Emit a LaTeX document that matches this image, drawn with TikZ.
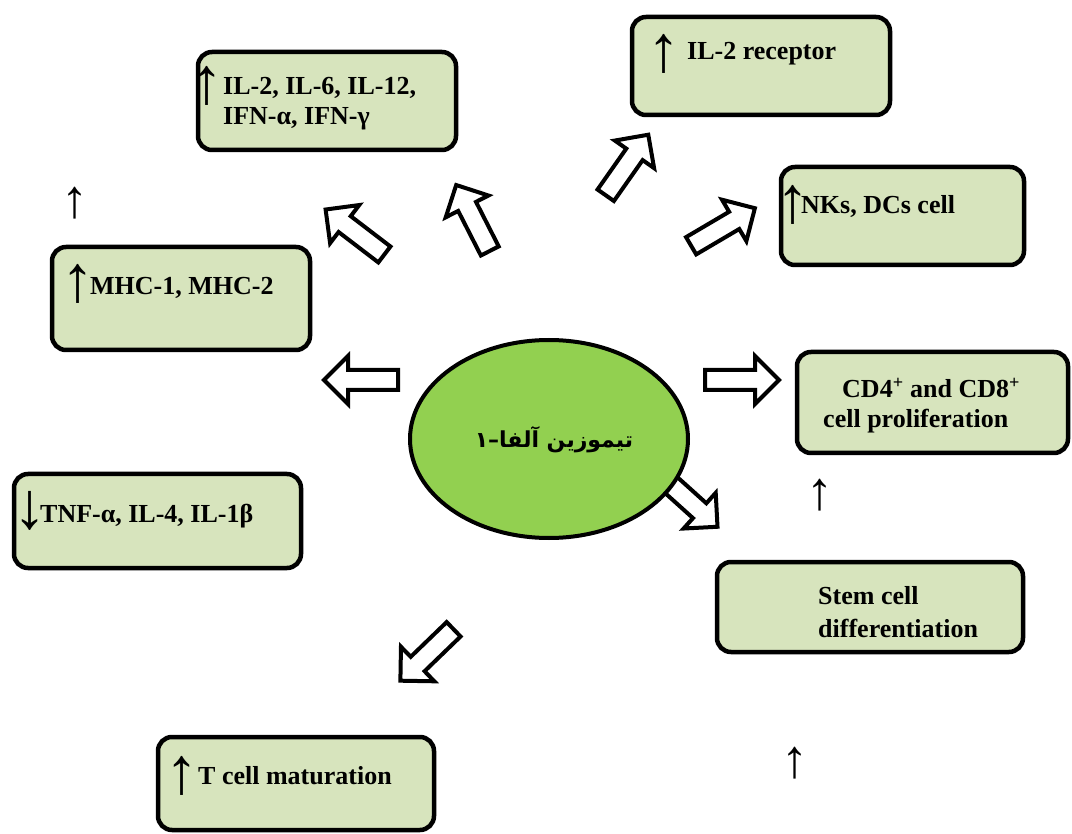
\documentclass[tikz,border=0pt]{standalone}
\usepackage{fontspec}
\usetikzlibrary{shapes.geometric}
\setmainfont{Liberation Serif}
\newfontfamily\arabicfont[Script=Arabic]{DejaVu Sans}
\TeXXeTstate=1
\definecolor{boxfill}{HTML}{D7E4BD}
\definecolor{corefill}{HTML}{92D050}
\tikzset{
  box/.style={draw=black, line width=4.5pt, rounded corners=14pt, fill=boxfill, inner sep=0pt},
  txt/.style={anchor=base west, inner sep=0pt, font=\bfseries\fontsize{26}{30}\selectfont},
  arr/.style={anchor=center, inner sep=0pt, font=\fontsize{66}{66}\selectfont},
  sarr/.style={anchor=center, inner sep=0pt, font=\fontsize{54}{54}\selectfont},
  barrow/.pic={\draw[line width=4pt, fill=white, line join=miter]
     (-37,-10) -- (13,-10) -- (13,-24) -- (37,0) -- (13,24) -- (13,10) -- (-37,10) -- cycle;}
}
\begin{document}
\begin{tikzpicture}[x=1pt,y=-1pt]
\useasboundingbox (0,0) rectangle (1072,834);
% boxes
\node[box, minimum width=258pt, minimum height=98pt] (b1) at (327,101) {};
\node[box, minimum width=258pt, minimum height=98pt] (b2) at (761,66) {};
\node[box, minimum width=243pt, minimum height=98pt] (b3) at (902.5,216) {};
\node[box, minimum width=258pt, minimum height=103pt] (b4) at (181,298.5) {};
\node[box, minimum width=271pt, minimum height=101pt] (b5) at (932.5,402.5) {};
\node[box, minimum width=287pt, minimum height=94pt] (b6) at (157.5,521) {};
\node[box, minimum width=306pt, minimum height=90pt] (b7) at (870,607) {};
\node[box, minimum width=276pt, minimum height=93pt] (b8) at (296,783.5) {};
% block arrows
\pic[rotate=142.6] at (355,232) {barrow};
\pic[rotate=117] at (473,218) {barrow};
\pic[rotate=54.9] at (627,165) {barrow};
\pic[rotate=30.5] at (723,227) {barrow};
\pic[rotate=180] at (361,380) {barrow};
\pic[rotate=0] at (742,380) {barrow};
\pic[rotate=-42] at (690,502) {barrow};
\pic[rotate=224] at (427,655) {barrow};
% centre
\node[ellipse, draw=black, line width=4pt, fill=corefill, minimum width=278pt, minimum height=198pt, inner sep=0pt] (core) at (549,439) {};
\node[inner sep=0pt, font=\arabicfont\bfseries\fontsize{22}{26}\selectfont] (coretxt) at (554,440) {\beginR تیموزین آلفا–۱\endR};
% texts
\node[arr] (a1) at (207,86) {↑};
\node[txt] (t1a) at (223,95) {IL-2, IL-6, IL-12,};
\node[txt] (t1b) at (223,125) {IFN-α, IFN-γ};
\node[arr] (a2) at (664,54) {↑};
\node[txt] (t2) at (687,60) {IL-2 receptor};
\node[arr] (a3) at (793,205) {↑};
\node[txt] (t3) at (801,214) {NKs, DCs cell};
\node[arr] (a4) at (78,284) {↑};
\node[txt] (t4) at (90,295) {MHC-1, MHC-2};
\node[txt] (t5a) at (842,398) {CD4\textsuperscript{+} and CD8\textsuperscript{+}};
\node[txt] (t5b) at (823,428) {cell proliferation};
\node[arr] (a6) at (30,511) {↓};
\node[txt] (t6) at (40,522) {TNF-α, IL-4, IL-1β};
\node[txt] (t7a) at (818,604) {Stem cell};
\node[txt] (t7b) at (818,637) {differentiation};
\node[arr] (a8) at (182,776) {↑};
\node[txt] (t8) at (198,784) {T cell maturation};
% stray arrows
\node[sarr] (s1) at (75,203) {↑};
\node[sarr] (s2) at (820,495) {↑};
\node[sarr] (s3) at (795,763) {↑};
\end{tikzpicture}
\end{document}
